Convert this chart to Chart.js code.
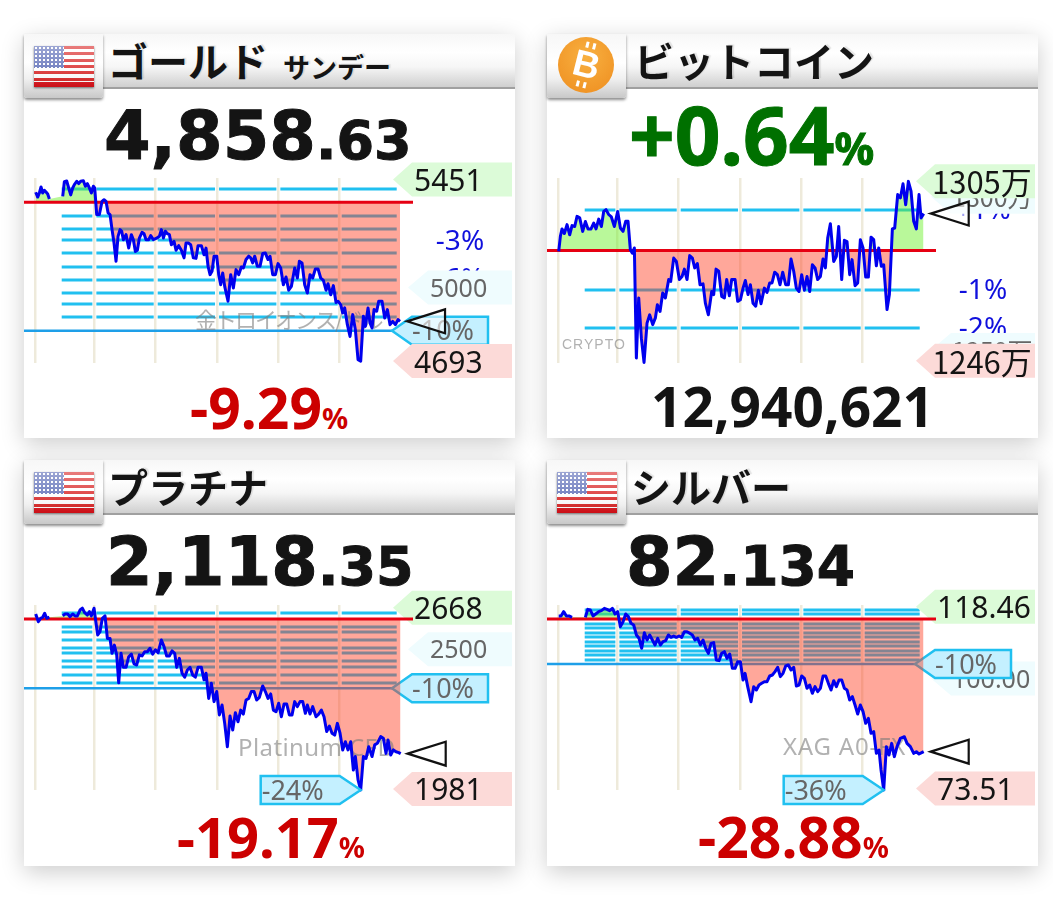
<!DOCTYPE html>
<html lang="ja"><head><meta charset="utf-8">
<script src="https://cdn.jsdelivr.net/npm/chart.js@4"></script>
<style>
html,body{margin:0;padding:0;background:#fff;width:1053px;height:901px;overflow:hidden}
.panel{position:absolute;width:491px;height:405px;background:#fff;box-shadow:0 6px 22px rgba(0,0,0,.2)}
.head{position:absolute;left:0;top:0;width:491px;height:53px;background:linear-gradient(#f7f7f7 0,#fff 35%,#f6f6f6 62%,#cfcfcf 100%);border-bottom:2px solid #a0a0a0}
.tab{position:absolute;left:0;top:0;width:79px;height:64px;background:linear-gradient(#f7f7f7 0,#fff 45%,#f0f0f0 70%,#c8c8c8 100%);box-shadow:0 2px 3px rgba(0,0,0,.45);border-radius:0 0 3px 3px}
.flag{position:absolute;left:10px;top:12px;width:60px;height:41px;box-shadow:0 1px 2px rgba(0,0,0,.5);overflow:hidden;
 background:repeating-linear-gradient(#d81e1e 0,#d81e1e 3.15px,#fff 3.15px,#fff 6.3px)}
.flag i{position:absolute;left:0;top:0;width:30px;height:22px;background:#5566b4 radial-gradient(circle,#fff 0.8px,transparent 1.1px) 0 0/4px 4px}
.flag b{position:absolute;inset:0;background:linear-gradient(rgba(255,255,255,.42),rgba(255,255,255,.22) 50%,rgba(0,0,0,.06))}
.flag u{position:absolute;left:0;right:0;bottom:0;height:5px;background:#d81018}
.coin{position:absolute;left:11px;top:3px;width:56px;height:56px;border-radius:50%;background:radial-gradient(circle at 50% 35%,#f8b040,#ee8d1f);color:#fff;text-align:center;font:700 37px/56px "Liberation Sans"}
.coin span{position:relative;display:inline-block;transform:rotate(14deg)}
.coin em{position:absolute;width:3px;height:6px;background:#fff}
.t{position:absolute;white-space:nowrap;line-height:1;color:#141414}
.title{font-family:"Noto Sans CJK JP";font-weight:700;text-shadow:2px -1px 1px rgba(0,0,0,.1)}
.big{font-family:"DejaVu Sans";font-weight:700;-webkit-text-stroke:1px currentColor}
.chg{font-family:"Noto Sans";font-weight:700}
canvas{position:absolute;left:0;display:block}
</style></head><body>
<script>
const goldSeries=[[0,5398],[6,5378],[11,5395],[16,5420],[21,5395],[26,5406],[31,5399],[36,5391],[41,5370],[60,null],[81,5381],[86,5442],[93,5445],[99,5416],[105,5387],[111,5416],[116,5430],[123,5444],[129,5434],[135,5444],[143,5446],[149,5423],[155,5434],[161,5416],[167,5395],[173,5423],[177,5416],[183,5305],[191,5305],[199,5360],[205,5367],[211,5360],[217,5312],[223,5305],[229,5242],[235,5186],[241,5110],[247,5214],[253,5242],[258,5235],[263,5200],[271,5221],[279,5165],[287,5221],[293,5200],[299,5151],[305,5156],[311,5207],[319,5231],[325,5225],[331,5200],[339,5200],[345,5217],[353,5200],[363,5206],[371,5214],[377,5242],[383,5207],[389,5235],[395,5225],[401,5221],[407,5179],[415,5193],[421,5156],[429,5175],[437,5156],[445,5124],[451,5186],[458,5186],[465,5179],[473,5124],[481,5122],[487,5175],[497,5175],[505,5137],[511,5165],[517,5089],[523,5054],[529,5068],[535,5131],[543,5131],[549,5054],[555,5012],[561,5061],[567,5005],[577,4943],[585,5054],[593,4998],[601,5075],[609,5054],[617,5086],[623,5082],[631,5117],[639,5131],[645,5124],[651,5103],[657,5131],[665,5089],[673,5089],[681,5142],[689,5144],[697,5117],[703,5131],[711,5054],[719,5054],[727,5100],[735,5082],[743,5012],[751,5044],[759,4989],[767,5005],[777,5082],[785,5040],[791,5110],[799,5103],[807,5012],[815,4977],[823,5054],[831,5040],[839,5078],[847,5078],[855,5040],[863,5030],[871,4989],[877,5016],[885,4970],[893,5008],[901,4938],[907,4943],[915,4929],[921,4894],[927,4915],[935,4845],[943,4796],[951,4887],[959,4824],[967,4699],[975,4693],[983,4880],[989,4838],[997,4915],[1003,4852],[1009,4831],[1015,4908],[1023,4901],[1029,4943],[1039,4943],[1047,4873],[1055,4908],[1063,4845],[1071,4859],[1079,4845],[1087,4866],[1093,4859]];
const goldLevels=[5412,5300,5243,5200,5144,5087,5032,4976,4931,4876];
const btcSeries=[[0,1282.2],[5,1287.1],[10,1289.5],[17,1288.0],[25,1290.9],[33,1287.6],[40,1290.6],[48,1290.3],[55,1293.6],[63,1293.1],[72,1288.7],[80,1291.9],[88,1289.5],[97,1289.5],[105,1291.4],[112,1289.5],[120,1292.7],[128,1290.3],[135,1295.2],[142,1295.8],[150,1294.2],[158,1293.4],[167,1290.3],[177,1295.2],[185,1289.8],[193,1288.7],[201,1292.0],[208,1292.0],[215,1282.7],[221,1281.6],[227,1283.3],[233,1247.4],[240,1267.0],[248,1253.9],[256,1246.0],[265,1258.8],[273,1261.5],[282,1258.3],[290,1260.5],[296,1264.8],[304,1262.6],[312,1268.6],[320,1267.0],[330,1273.0],[336,1272.4],[345,1280.0],[353,1278.9],[362,1273.0],[370,1274.0],[377,1276.4],[385,1273.0],[393,1280.8],[401,1280.0],[408,1276.8],[416,1278.2],[424,1271.3],[433,1271.6],[440,1265.3],[449,1261.5],[459,1269.1],[465,1268.1],[472,1276.4],[480,1275.7],[489,1267.5],[497,1267.0],[504,1273.0],[512,1267.7],[519,1273.0],[529,1273.0],[537,1265.9],[545,1266.4],[553,1270.2],[560,1272.7],[568,1268.1],[575,1271.3],[583,1265.3],[591,1264.3],[599,1269.5],[607,1265.1],[617,1270.2],[625,1268.8],[633,1271.9],[640,1271.9],[648,1275.4],[656,1274.6],[664,1271.3],[672,1275.4],[681,1271.3],[689,1271.3],[697,1279.7],[705,1275.7],[713,1270.2],[721,1269.1],[729,1274.6],[737,1269.5],[745,1274.0],[753,1269.1],[761,1277.8],[769,1276.8],[777,1273.0],[785,1274.0],[793,1279.7],[800,1276.8],[807,1286.5],[815,1291.2],[825,1278.9],[833,1280.6],[840,1290.3],[849,1273.0],[857,1285.8],[865,1285.4],[873,1274.6],[880,1279.5],[889,1271.0],[897,1271.9],[905,1286.0],[913,1283.3],[921,1273.8],[929,1273.8],[937,1286.8],[945,1286.0],[953,1277.5],[960,1283.3],[968,1277.3],[975,1277.8],[985,1263.2],[992,1268.1],[1001,1289.5],[1008,1289.8],[1017,1300.7],[1025,1299.6],[1033,1304.2],[1041,1297.4],[1049,1305.0],[1057,1301.8],[1065,1292.0],[1073,1289.5],[1081,1300.7],[1087,1293.1],[1095,1294.5]];
const btcLevels=[1295.6,1269.5,1257.3];
const platinumSeries=[[0,2644],[8,2615],[15,2628],[21,2632],[27,2647],[33,2628],[41,2632],[60,null],[81,2637],[88,2644],[96,2644],[103,2634],[111,2644],[118,2637],[125,2637],[133,2659],[140,2666],[147,2649],[155,2640],[161,2653],[167,2637],[175,2666],[181,2609],[186,2565],[193,2578],[200,2628],[208,2637],[215,2552],[223,2552],[229,2496],[236,2527],[243,2490],[249,2385],[256,2496],[263,2443],[271,2443],[279,2483],[287,2493],[295,2456],[303,2452],[311,2490],[319,2486],[327,2502],[335,2502],[343,2515],[351,2493],[359,2509],[367,2498],[377,2546],[385,2521],[393,2486],[401,2486],[409,2505],[417,2496],[423,2443],[431,2477],[439,2421],[447,2406],[455,2433],[463,2443],[471,2414],[479,2406],[487,2443],[497,2443],[505,2396],[511,2421],[519,2326],[527,2383],[535,2314],[543,2352],[551,2264],[559,2301],[567,2232],[575,2144],[583,2260],[591,2207],[599,2272],[607,2238],[615,2282],[623,2267],[631,2320],[639,2326],[647,2352],[655,2352],[663,2320],[671,2330],[681,2373],[689,2352],[697,2326],[705,2343],[713,2282],[721,2276],[729,2308],[737,2257],[745,2305],[753,2305],[761,2264],[769,2264],[777,2314],[785,2295],[793,2314],[801,2314],[809,2270],[815,2301],[823,2267],[831,2295],[841,2257],[849,2267],[857,2282],[865,2257],[873,2201],[881,2222],[889,2195],[897,2188],[905,2232],[913,2195],[921,2132],[929,2163],[937,2132],[945,2163],[953,2056],[959,2107],[967,2019],[975,1981],[983,2107],[991,2100],[999,2144],[1009,2107],[1017,2151],[1025,2157],[1035,2182],[1043,2176],[1051,2119],[1057,2169],[1065,2113],[1073,2132],[1081,2125],[1089,2122],[1095,2118]];
const platinumLevels=[2647,2596,2576,2546,2516,2496,2466,2446,2416,2385];
const silverSeries=[[0,116.40],[7,116.40],[15,117.47],[23,116.40],[31,116.40],[40,116.07],[60,null],[80,116.07],[87,118.04],[95,117.88],[103,116.40],[111,116.89],[120,117.47],[128,117.72],[137,118.29],[145,118.04],[153,117.72],[161,118.29],[169,116.89],[177,117.47],[185,113.77],[193,115.00],[201,116.89],[209,116.24],[217,114.59],[225,114.18],[233,111.72],[241,110.90],[249,108.43],[257,112.29],[265,110.48],[273,111.72],[281,110.48],[289,109.25],[297,110.90],[305,109.25],[313,110.07],[321,110.32],[329,111.72],[337,111.14],[345,111.47],[353,111.14],[361,111.47],[369,111.14],[377,112.54],[385,112.54],[393,112.13],[401,111.72],[409,110.48],[417,110.90],[425,109.25],[433,110.48],[441,108.43],[449,107.20],[457,109.66],[465,109.83],[473,105.55],[481,105.39],[489,107.20],[497,107.61],[505,105.96],[513,107.03],[521,103.50],[529,103.50],[537,105.14],[545,105.14],[553,100.62],[559,102.27],[567,98.98],[577,95.28],[585,98.98],[593,98.16],[601,99.39],[609,99.80],[617,100.21],[625,100.21],[633,101.61],[641,101.86],[649,102.68],[657,103.75],[665,101.45],[673,102.27],[681,104.08],[689,104.32],[697,103.09],[705,103.75],[713,99.15],[721,99.39],[729,101.61],[737,101.03],[745,98.57],[753,99.39],[761,97.34],[769,98.98],[777,97.75],[785,98.57],[793,101.61],[801,101.61],[809,99.80],[817,98.16],[825,100.46],[833,98.98],[841,100.62],[849,100.62],[857,98.57],[865,98.16],[873,95.69],[881,96.52],[889,94.46],[897,92.24],[905,94.46],[913,92.82],[921,89.94],[929,91.17],[937,87.48],[945,87.89],[953,82.55],[961,83.37],[967,78.44],[975,73.51],[983,84.19],[991,82.14],[999,85.01],[1007,81.73],[1015,84.19],[1025,86.24],[1037,86.65],[1045,85.01],[1055,84.19],[1065,82.55],[1073,82.96],[1081,82.38],[1089,82.71],[1095,82.96]];
const silverLevels=[117.88,116.77,114.55,113.44,112.33,111.22,110.11,109.0,107.89,106.78,105.67];
const gridPositions=[0,176,360,544,728,912];

const C={level:'#20c0f0',ten:'#1e9fe8',red:'#e60012',up:'rgba(100,240,30,.45)',down:'rgba(255,60,30,.45)',line:'#0000ee',
 hi:'#dcfbd8',lo:'#fcdad8',gray:'#effcfe',tenFill:'#c4f0ff',grayText:'#666',dark:'#141414',blue:'#1010dd',grid:'#eeeadb'};
const SANS='"Noto Sans"',CJK='"Noto Sans CJK JP"';

const panels=[
 {id:'gold',left:24,top:34,canvasTop:160,plotTop:178,plotBottom:363,yMin:4685,yMax:5457.6,series:goldSeries,levels:goldLevels,base:5356,ten:4820,
  hi:['5451',5451],lo:['4693',4693],grays:[['5000',5000,0]],pct:[['-3%',5195],['-6%',5035]],tenLabel:'-10%',
  mark:{text:'金トロイオンス/ドル',x:171,val:4866,font:'22px '+CJK,spacing:'-2px'},
  title:'ゴールド',sub:'サンデー',main:['4,858','.63'],mx:80,my:69,ms:[67,54],foot:['-9.29','%'],fx:166,fy:409,color:'#cc0000'},
 {id:'btc',left:547,top:34,canvasTop:160,plotTop:178,plotBottom:363,yMin:1245.8,yMax:1306.1,series:btcSeries,levels:btcLevels,base:1282.5,
  hi:['1305万',1305],lo:['1246万',1246.5],grays:[['1300万',1300,0],['1250万',1250,0]],pct:[['+1%',1295.6],['-1%',1269.5],['-2%',1257.3]],
  mark:{text:'CRYPTO',x:15,val:1251.5,font:'14px "Liberation Sans"',spacing:'1px'},coin:true,
  title:'ビットコイン',main:['+0.64','%'],mx:82,my:60,ms:[80,44],mfont:'"Noto Sans"',mcolor:'#007000',foot:['12,940,621',''],fx:104,fy:408,color:'#141414'},
 {id:'platinum',left:24,top:460,canvasTop:586,plotTop:605,plotBottom:790,yMin:1981,yMax:2678,series:platinumSeries,levels:platinumLevels,base:2625,ten:2364,
  hi:['2668',2668],lo:['1981',1985],grays:[['2500',2511,0]],pct:[],tenLabel:'-10%',minLabel:'-24%',
  mark:{text:'Platinum CFD',x:214,val:2134,font:'24px '+SANS,spacing:'0.4px'},
  title:'プラチナ',main:['2,118','.35'],mx:82,my:69,ms:[67,54],foot:['-19.17','%'],fx:153,fy:838,color:'#cc0000',fsize:56},
 {id:'silver',left:547,top:460,canvasTop:586,plotTop:605,plotBottom:790,yMin:73.51,yMax:119.11,series:silverSeries,levels:silverLevels,base:115.66,ten:104.57,
  hi:['118.46',118.7],lo:['73.51',73.9],grays:[['100.00',101.0,0]],pct:[],tenLabel:'-10%',minLabel:'-36%',
  mark:{text:'XAG A0-FX',x:236,val:83.8,font:'24px '+SANS,spacing:'0.8px'},
  title:'シルバー',main:['82','.134'],mx:79,my:69,ms:[67,55],foot:['-28.88','%'],fx:151,fy:838,color:'#cc0000'}
];

function el(parent,cls,css,txt){const e=document.createElement('div');e.className=cls;if(css)e.style.cssText=css;if(txt!=null)e.textContent=txt;parent.appendChild(e);return e;}

function pentagon(ctx,tip,body,right,cy,h,fill,stroke){
 ctx.beginPath();ctx.moveTo(tip,cy);ctx.lineTo(body,cy-h);ctx.lineTo(right,cy-h);ctx.lineTo(right,cy+h);ctx.lineTo(body,cy+h);ctx.closePath();
 ctx.fillStyle=fill;ctx.fill();
 if(stroke){ctx.strokeStyle=stroke;ctx.lineWidth=2.5;ctx.stroke();}
}
function label(ctx,s,x,y,font,color){ctx.font=font;ctx.fillStyle=color;ctx.textAlign='left';ctx.textBaseline='middle';ctx.fillText(s,x,y);}

function makePlugin(p){return{
 id:'overlay'+p.id,
 beforeDatasetsDraw(chart){
  const c=chart.ctx,X=chart.scales.x,Y=chart.scales.y;
  const gapX=gridPositions.map(g=>X.getPixelForValue(g));
  const x0=X.getPixelForValue(78),x1=X.getPixelForValue(1083);
  c.save();
  c.strokeStyle=C.level;c.lineWidth=3;
  p.levels.forEach(v=>{const y=Math.round(Y.getPixelForValue(v));
   let s=x0;c.beginPath();
   gapX.filter(g=>g>x0).forEach(g=>{c.moveTo(s,y);c.lineTo(g-2,y);s=g+2;});
   c.moveTo(s,y);c.lineTo(x1,y);c.stroke();});
  if(p.ten!=null){const y=Y.getPixelForValue(p.ten);c.strokeStyle=C.ten;c.lineWidth=2.5;c.beginPath();c.moveTo(0,y);c.lineTo(368,y);c.stroke();}
  p.pct.forEach(([s,v])=>{c.font='28px '+SANS;c.fillStyle=C.blue;c.textAlign='center';c.textBaseline='middle';c.fillText(s,436,Y.getPixelForValue(v)+1);});
  p.grays.forEach(([s,v,d])=>{const y=Y.getPixelForValue(v)+d;pentagon(c,384,404,488,y,17,C.gray);const w=s.endsWith('万');label(c,s,s.length>4?405:406,y+(w?1:2),'25px '+(w?CJK:SANS),C.grayText);});
  if(p.ten!=null){const y=Y.getPixelForValue(p.ten);pentagon(c,368,388,464,y,14,C.tenFill,C.level);label(c,p.tenLabel,388,y+2,'27px '+SANS,C.grayText);}
  const wan=p.hi[0].endsWith('万');const hy=Y.getPixelForValue(p.hi[1]),ly=Y.getPixelForValue(p.lo[1]);
  const dy=wan?1:3;const hf=wan?'31px '+CJK:'30px '+SANS;
  pentagon(c,369,388,488,hy,17,C.hi);label(c,p.hi[0],wan?385:390,hy+dy,hf,C.dark);
  pentagon(c,369,388,488,ly,17,C.lo);label(c,p.lo[0],wan?385:390,ly+dy,hf,C.dark);
  c.restore();
 },
 afterDatasetDraw(chart,args){
  if(args.index!==0)return;
  const c=chart.ctx,Y=chart.scales.y,y=Y.getPixelForValue(p.base);
  c.save();
  c.strokeStyle=C.red;c.lineWidth=3;c.beginPath();c.moveTo(0,y);c.lineTo(389,y);c.stroke();
  c.font=p.mark.font;if(p.mark.spacing)c.letterSpacing=p.mark.spacing;
  c.fillStyle='rgba(120,120,120,.58)';c.textAlign='left';c.textBaseline='middle';c.fillText(p.mark.text,p.mark.x,Y.getPixelForValue(p.mark.val));
  c.restore();
 },
 afterDatasetsDraw(chart){
  const c=chart.ctx,X=chart.scales.x,Y=chart.scales.y;
  const pts=p.series.filter(q=>q[1]!=null),last=pts[pts.length-1];
  const lx=X.getPixelForValue(last[0])+7,ly=Y.getPixelForValue(last[1]);
  c.save();
  c.beginPath();c.moveTo(lx,ly);c.lineTo(lx+38,ly-12);c.lineTo(lx+38,ly+12);c.closePath();
  c.fillStyle='rgba(255,255,255,.6)';c.fill();c.strokeStyle='#111';c.lineWidth=2.2;c.stroke();
  if(p.minLabel){
   const m=pts.reduce((a,b)=>b[1]<a[1]?b:a),tx=X.getPixelForValue(m[0]),ty=Y.getPixelForValue(m[1]);
   c.beginPath();c.moveTo(tx,ty);c.lineTo(tx-21,ty-14);c.lineTo(tx-100,ty-14);c.lineTo(tx-100,ty+14);c.lineTo(tx-21,ty+14);c.closePath();
   c.fillStyle=C.tenFill;c.fill();c.strokeStyle=C.level;c.lineWidth=2.5;c.stroke();
   label(c,p.minLabel,tx-99,ty+2,'27px '+SANS,C.grayText);
  }
  c.restore();
 }
};}

panels.forEach(p=>{
 const box=el(document.body,'panel','left:'+p.left+'px;top:'+p.top+'px;height:'+(p.top<100?404:406)+'px');
 el(box,'head');
 const tab=el(box,'tab');
 if(p.coin){
  const coin=el(tab,'coin');const sp=document.createElement('span');sp.textContent='B';coin.appendChild(sp);
  ['left:8px;top:5px','left:15px;top:5px','left:8px;bottom:5px','left:15px;bottom:5px'].forEach(s=>{const k=document.createElement('em');k.style.cssText=s;sp.appendChild(k);});
 }else{const f=el(tab,'flag');f.appendChild(document.createElement('u'));f.appendChild(document.createElement('i'));f.appendChild(document.createElement('b'));}
 const tx=p.coin?88:85;
 el(box,'t title','left:'+(tx-1)+'px;top:6px;font-size:40px',p.title);
 if(p.sub)el(box,'t title','left:259px;top:19px;font-size:27px',p.sub);
 const fam=p.mfont||'"DejaVu Sans"',col=p.mcolor||'#141414';
 const m=el(box,'t big','left:'+p.mx+'px;top:'+p.my+'px;font-family:'+fam+';color:'+col+';font-size:'+p.ms[0]+'px');
 m.textContent=p.main[0];
 const ms=document.createElement('span');ms.style.fontSize=p.ms[1]+'px';ms.textContent=p.main[1];m.appendChild(ms);
 const f=el(box,'t chg','left:'+p.fx+'px;top:'+(p.fy-p.top-30)+'px;color:'+p.color+';font-size:'+(p.fsize||(p.foot[1]?57:55))+'px');
 f.textContent=p.foot[0];
 if(p.foot[1]){const fs=document.createElement('span');fs.style.fontSize='29px';fs.textContent=p.foot[1];f.appendChild(fs);}

 const cv=document.createElement('canvas');cv.width=491;cv.height=240;cv.style.top=(p.canvasTop-p.top)+'px';cv.style.width='491px';cv.style.height='240px';box.appendChild(cv);
 const lineData=p.series.map(q=>({x:q[0],y:q[1]}));
 const fillData=p.series.filter(q=>q[1]!=null).map(q=>({x:q[0],y:q[1]}));
 new Chart(cv.getContext('2d'),{
  type:'line',
  data:{datasets:[
   {data:fillData,order:2,borderWidth:0,borderColor:'transparent',pointRadius:0,spanGaps:true,tension:0,clip:false,
    fill:{target:{value:p.base},above:C.up,below:C.down}},
   {data:lineData,order:1,borderColor:C.line,borderWidth:3,pointRadius:0,spanGaps:false,tension:0,clip:false,fill:false,borderJoinStyle:'round'}
  ]},
  options:{responsive:false,animation:false,devicePixelRatio:1,events:[],parsing:true,
   layout:{padding:{left:11.7,right:114.3,top:p.plotTop-p.canvasTop,bottom:p.canvasTop+240-p.plotBottom}},
   plugins:{legend:{display:false},tooltip:{enabled:false},title:{display:false}},
   scales:{
    x:{type:'linear',min:0,max:1095,display:true,
     afterBuildTicks(s){s.ticks=gridPositions.map(v=>({value:v}));},
     afterFit(s){s.height=0;},
     ticks:{display:false},border:{display:false},grid:{color:C.grid,lineWidth:2.5,drawTicks:false}},
    y:{type:'linear',min:p.yMin,max:p.yMax,display:false}
   }
  },
  plugins:[makePlugin(p)]
 });
});
</script>
</body></html>
